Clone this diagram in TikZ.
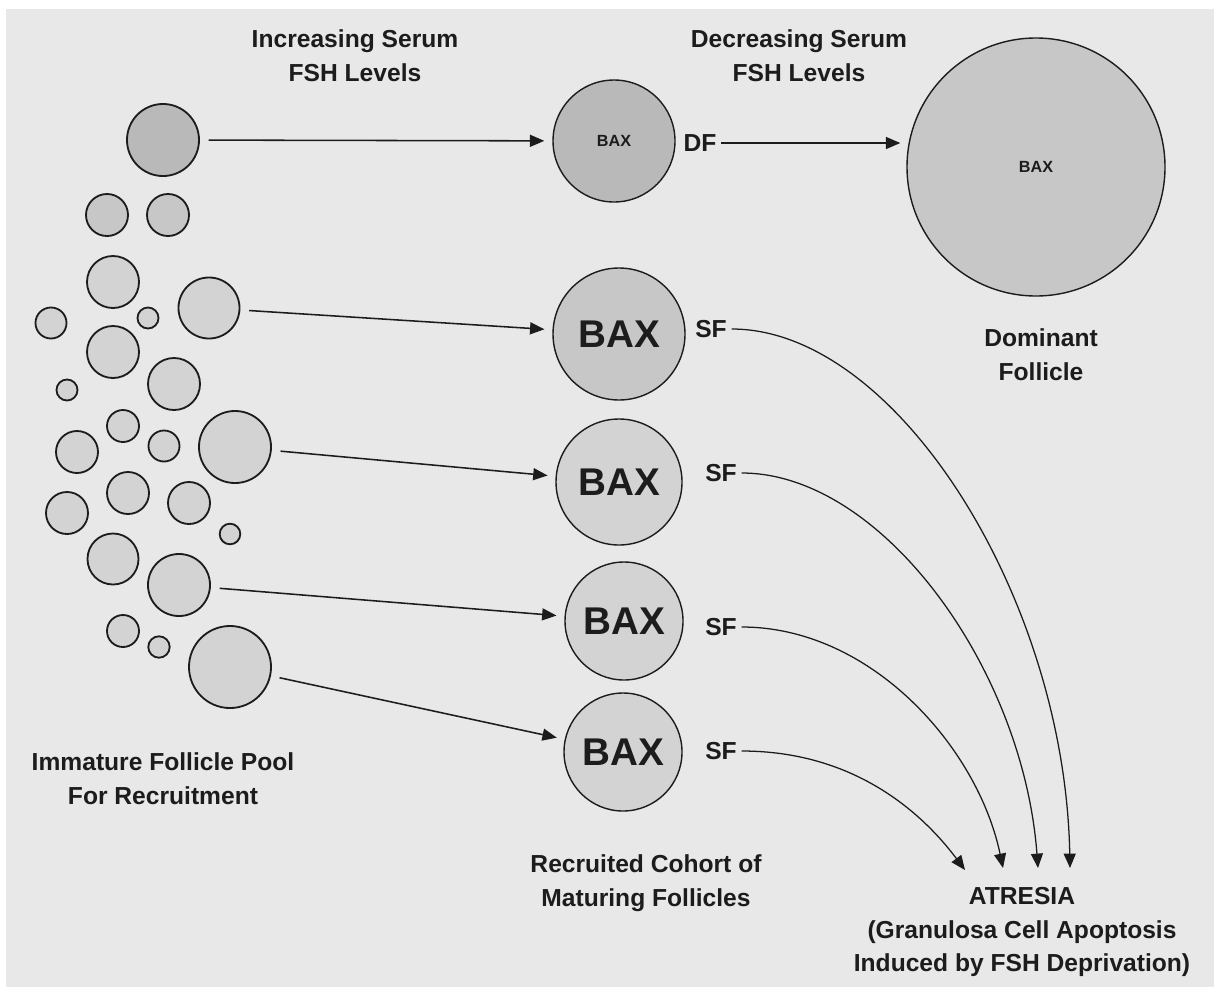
\documentclass[tikz,border=0pt]{standalone}
\usepackage{fontspec}
\setmainfont{Liberation Sans}
\usetikzlibrary{arrows.meta}
\definecolor{paper}{HTML}{E8E8E8}
\definecolor{ink}{HTML}{1C1C1C}
\definecolor{folL}{HTML}{D3D3D3}
\definecolor{folM}{HTML}{C7C7C7}
\definecolor{folD}{HTML}{B9B9B9}
\tikzset{
  fol/.style={circle,draw=ink,line width=1.3pt,fill=#1,inner sep=0pt,text=ink},
  lab/.style={font=\bfseries\fontsize{17.5}{24}\selectfont,align=center,text=ink},
  sbax/.style={font=\bfseries\fontsize{11.5}{13}\selectfont},
  bbax/.style={font=\bfseries\fontsize{27.5}{30}\selectfont},
  arr/.style={draw=ink,line width=1.1pt,-{Triangle[length=0.36cm,width=0.3cm]}}
}
\begin{document}
\begin{tikzpicture}[x=0.025cm,y=-0.025cm]
\fill[white] (0,0) rectangle (1214,987);\fill[paper] (6,9) rectangle (1214,987);
\useasboundingbox (0,0) rectangle (1214,987);
\foreach \x/\y/\r/\c [count=\i] in {163/140/36/folD,107/215/21/folM,168/215/21/folM,113/282/26/folL,51/323/15.5/folL,148/318/10.5/folL,209/308/30.5/folL,113/352/26/folL,174/384/26/folL,67/390/10.5/folL,123/426/16/folL,77/452/21/folL,164/446/15.5/folL,235/447/36/folL,128/493/21/folL,67/513/21/folL,189/503/21/folL,230/534/10.3/folL,113/559/25.5/folL,179/585/31/folL,123/631/16/folL,159/647/10.7/folL,230/667/41/folL}
  \node[fol=\c,minimum size=\r*0.05cm] (p\i) at (\x,\y) {};
\node[fol=folD,line width=1pt,minimum size=122*0.025cm,sbax] (m1) at (614,141) {BAX};
\node[fol=folM,line width=1pt,minimum size=132*0.025cm,bbax] (m2) at (619,334) {BAX};
\node[fol=folL,line width=1pt,minimum size=126*0.025cm,bbax] (m3) at (619,482) {BAX};
\node[fol=folL,line width=1pt,minimum size=118*0.025cm,bbax] (m4) at (624,621) {BAX};
\node[fol=folL,line width=1pt,minimum size=118*0.025cm,bbax] (m5) at (623,752) {BAX};
\node[fol=folM,line width=1pt,minimum size=258*0.025cm,sbax] (dom) at (1036,167) {BAX};
\node[lab] (df) at (700,143) {DF};
\node[lab] (sf1) at (711,329) {SF};\node[lab] (sf2) at (721,473) {SF};\node[lab] (sf3) at (721,627) {SF};\node[lab] (sf4) at (721,751) {SF};
\coordinate (t1) at (1070,868);\coordinate (t2) at (1038,868);\coordinate (t3) at (1003,868);\coordinate (t4) at (965,870);
\draw[arr,shorten <=0.22cm,shorten >=0.2cm] (p1)--(m1);\draw[arr,shorten <=0.22cm,shorten >=0.2cm] (p7)--(m2);
\draw[arr,shorten <=0.22cm,shorten >=0.2cm] (p14)--(m3);\draw[arr,shorten <=0.22cm,shorten >=0.2cm] (p20)--(m4);
\draw[arr,shorten <=0.22cm,shorten >=0.2cm] (p23)--(m5);
\draw[arr,shorten >=0.15cm] (df.east)--(dom.west |- df.east);
\draw[arr,line width=0.9pt] (sf1.east) .. controls +(165,0) and +(-5,-270) .. (t1);
\draw[arr,line width=0.9pt] (sf2.east) .. controls +(140,0) and +(-15,-200) .. (t2);
\draw[arr,line width=0.9pt] (sf3.east) .. controls +(130,0) and +(-25,-120) .. (t3);
\draw[arr,line width=0.9pt] (sf4.east) .. controls +(110,0) and +(-45,-60) .. (t4);
\node[lab] (inc) at (355,56) {Increasing Serum\\FSH Levels};
\node[lab] (dec) at (799,56) {Decreasing Serum\\FSH Levels};
\node[lab] (domlab) at (1041,355) {Dominant\\Follicle};
\node[lab] (pool) at (163,779) {Immature Follicle Pool\\For Recruitment};
\node[lab] (coh) at (646,883) {Recruited Cohort of\\Maturing Follicles};
\node[lab] (atr) at (1022,932) {ATRESIA\\(Granulosa Cell Apoptosis\\Induced by FSH Deprivation)};
\end{tikzpicture}
\end{document}
